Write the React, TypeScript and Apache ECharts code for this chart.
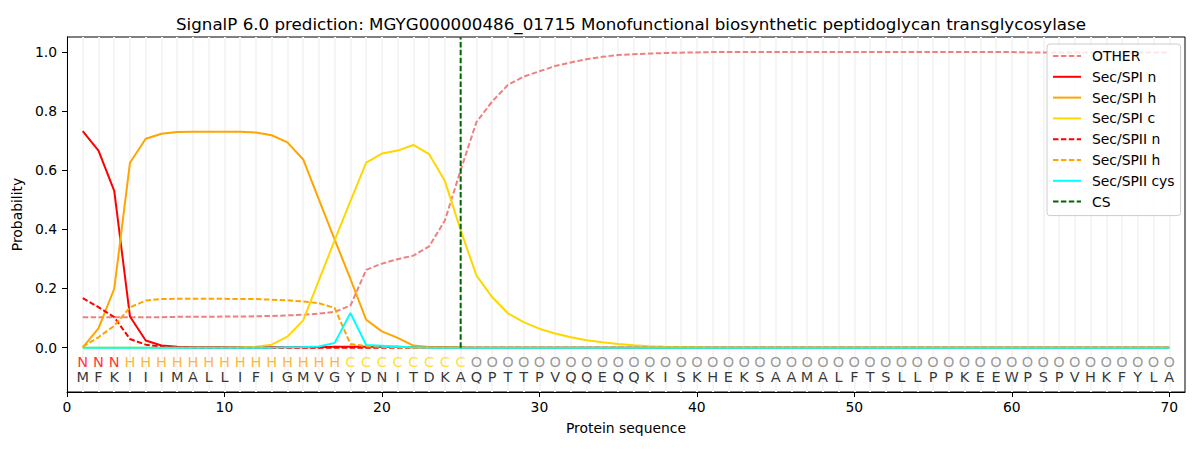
import React, { useEffect, useRef } from "react";
import * as echarts from "echarts";

// 残基序列与每个残基的预测标签
const residues = "MFKIIIMALLIFIGMVGYDNITDKAQPTTPVQQEQQKISKHEKSAAMALFTSLLPPKEEWPSPVHKFYLA".split("");
const regionLabels = "NNNHHHHHHHHHHHHHHCCCCCCCCOOOOOOOOOOOOOOOOOOOOOOOOOOOOOOOOOOOOOOOOOOOOO".split("");

const otherProb = [
  0.103, 0.103, 0.103, 0.103, 0.103, 0.103, 0.104, 0.104, 0.104, 0.105,
  0.105, 0.106, 0.107, 0.109, 0.111, 0.115, 0.121, 0.142, 0.263, 0.284,
  0.299, 0.311, 0.342, 0.43, 0.6, 0.762, 0.832, 0.888, 0.916, 0.934,
  0.952, 0.964, 0.975, 0.983, 0.989, 0.992, 0.994, 0.996, 0.997, 0.998,
  0.999, 0.999, 0.999, 0.999, 0.999, 0.999, 0.999, 0.999, 0.999, 0.999,
  0.999, 0.999, 0.999, 0.999, 0.999, 0.999, 0.999, 0.999, 0.999, 0.999,
  0.998, 0.998, 0.998, 0.998, 0.998, 0.998, 0.998, 0.998, 0.998, 0.998,
];
const spiN = [
  0.732, 0.666, 0.53, 0.105, 0.024, 0.007, 0.003, 0.001, 0.001, 0.001,
  0.001, 0.001, 0.001, 0.001, 0.001, 0.001, 0.003, 0.003, 0.003, 0.003,
  0.003, 0.001, 0.001, 0.001, 0, 0, 0, 0, 0, 0,
  0, 0, 0, 0, 0, 0, 0, 0, 0, 0,
  0, 0, 0, 0, 0, 0, 0, 0, 0, 0,
  0, 0, 0, 0, 0, 0, 0, 0, 0, 0,
  0, 0, 0, 0, 0, 0, 0, 0, 0, 0,
];
const spiH = [
  0.001, 0.065, 0.199, 0.625, 0.706, 0.723, 0.729, 0.73, 0.73, 0.73,
  0.73, 0.727, 0.718, 0.694, 0.636, 0.5, 0.365, 0.232, 0.094, 0.055,
  0.033, 0.007, 0.002, 0.001, 0.001, 0, 0, 0, 0, 0,
  0, 0, 0, 0, 0, 0, 0, 0, 0, 0,
  0, 0, 0, 0, 0, 0, 0, 0, 0, 0,
  0, 0, 0, 0, 0, 0, 0, 0, 0, 0,
  0, 0, 0, 0, 0, 0, 0, 0, 0, 0,
];
const spiC = [
  0, 0, 0, 0, 0, 0, 0, 0, 0, 0,
  0.001, 0.003, 0.01, 0.037, 0.092, 0.228, 0.363, 0.495, 0.625, 0.656,
  0.666, 0.685, 0.654, 0.563, 0.397, 0.244, 0.171, 0.116, 0.086, 0.064,
  0.048, 0.035, 0.025, 0.018, 0.012, 0.008, 0.005, 0.003, 0.002, 0.001,
  0, 0, 0, 0, 0, 0, 0, 0, 0, 0,
  0, 0, 0, 0, 0, 0, 0, 0, 0, 0,
  0, 0, 0, 0, 0, 0, 0, 0, 0, 0,
];
const spiiN = [
  0.167, 0.137, 0.103, 0.029, 0.01, 0.003, 0.001, 0, 0, 0,
  0, 0, 0, 0, 0, 0, 0, 0, 0, 0,
  0, 0, 0, 0, 0, 0, 0, 0, 0, 0,
  0, 0, 0, 0, 0, 0, 0, 0, 0, 0,
  0, 0, 0, 0, 0, 0, 0, 0, 0, 0,
  0, 0, 0, 0, 0, 0, 0, 0, 0, 0,
  0, 0, 0, 0, 0, 0, 0, 0, 0, 0,
];
const spiiH = [
  0.003, 0.035, 0.074, 0.136, 0.159, 0.164, 0.165, 0.165, 0.165, 0.165,
  0.164, 0.164, 0.162, 0.16, 0.156, 0.15, 0.134, 0.012, 0.005, 0.002,
  0.001, 0, 0, 0, 0, 0, 0, 0, 0, 0,
  0, 0, 0, 0, 0, 0, 0, 0, 0, 0,
  0, 0, 0, 0, 0, 0, 0, 0, 0, 0,
  0, 0, 0, 0, 0, 0, 0, 0, 0, 0,
  0, 0, 0, 0, 0, 0, 0, 0, 0, 0,
];
const spiiCys = [
  0, 0, 0, 0, 0, 0, 0, 0, 0, 0,
  0, 0, 0, 0.001, 0.002, 0.004, 0.016, 0.117, 0.009, 0.006,
  0.003, 0.001, 0, 0, 0, 0, 0, 0, 0, 0,
  0, 0, 0, 0, 0, 0, 0, 0, 0, 0,
  0, 0, 0, 0, 0, 0, 0, 0, 0, 0,
  0, 0, 0, 0, 0, 0, 0, 0, 0, 0,
  0, 0, 0, 0, 0, 0, 0, 0, 0, 0,
];
const csPosition = 25;
const xTicks = [0, 10, 20, 30, 40, 50, 60, 70];
const yTicks = [0, 0.2, 0.4, 0.6, 0.8, 1.0];

const FONT = "DejaVu Sans";
const DASH = [5.5, 2.4];
const GRID_LINE = "#f5f5f5";
const labelColors: Record<string, string> = {
  N: "#ff0000",
  H: "#ffa500",
  C: "#ffd700",
  O: "#808080",
};

const toPoints = (arr: number[]) => arr.map((v, i) => [i + 1, v]);

const lineSeries = (name: string, data: number[], color: string, dashed: boolean) => ({
  name,
  type: "line",
  data: toPoints(data),
  symbol: "none",
  lineStyle: { color, width: 2, type: dashed ? DASH : "solid" },
  itemStyle: { color },
});

// 残基文字行：用散点的标签放在数据坐标上
const textRow = (name: string, letters: string[], y: number, colorOf: (r: string) => string) => ({
  name,
  type: "scatter",
  silent: true,
  symbolSize: 2,
  itemStyle: { color: "transparent" },
  data: letters.map((r, i) => ({
    value: [i + 1, y],
    label: { formatter: r, color: colorOf(r) },
  })),
  label: { show: true, position: "inside", fontFamily: FONT, fontSize: 14.5 },
  labelLayout: { hideOverlap: false },
  z: 5,
});

const App: React.FC = () => {
  const chartRef = useRef<HTMLDivElement>(null);

  useEffect(() => {
    const myChart = echarts.init(chartRef.current, null, { renderer: "svg" });
    const option: any = {
      animation: false,
      textStyle: { fontFamily: FONT },
      title: {
        text: "SignalP 6.0 prediction: MGYG000000486_01715 Monofunctional biosynthetic peptidoglycan transglycosylase",
        left: 626,
        top: 10,
        textAlign: "center",
        textStyle: { fontFamily: FONT, fontSize: 16.7, fontWeight: "normal", color: "#000" },
      },
      grid: {
        left: 67,
        right: 15,
        top: 37,
        bottom: 58,
        show: true,
        borderColor: "#000",
        borderWidth: 1,
        backgroundColor: "transparent",
      },
      legend: {
        data: ["OTHER", "Sec/SPI n", "Sec/SPI h", "Sec/SPI c", "Sec/SPII n", "Sec/SPII h", "Sec/SPII cys", "CS"],
        orient: "vertical",
        left: 1047,
        top: 44,
        itemWidth: 28,
        itemHeight: 14,
        itemGap: 6.8,
        padding: [5, 6, 7, 5],
        itemStyle: { opacity: 0 },
        backgroundColor: "rgba(255,255,255,0.8)",
        borderColor: "#cccccc",
        borderWidth: 1,
        borderRadius: 3,
        textStyle: { fontFamily: FONT, fontSize: 13.9, color: "#000", padding: [0, 0, 0, 6] },
      },
      xAxis: {
        type: "value",
        min: 0,
        max: 71,
        interval: 10,
        name: "Protein sequence",
        nameLocation: "middle",
        nameGap: 29,
        nameTextStyle: { fontFamily: FONT, fontSize: 13.9, color: "#000" },
        axisLine: { show: true, onZero: false, lineStyle: { color: "#000", width: 1 } },
        axisTick: { show: true, length: 5, lineStyle: { color: "#000" }, customValues: xTicks },
        axisLabel: { fontFamily: FONT, fontSize: 13.9, color: "#000", margin: 8, customValues: xTicks },
        splitLine: { show: true, lineStyle: { color: GRID_LINE, width: 2 } },
        minorTick: { show: false, splitNumber: 10 },
        minorSplitLine: { show: true, lineStyle: { color: GRID_LINE, width: 2 } },
      },
      yAxis: {
        type: "value",
        min: -0.15,
        max: 1.05,
        name: "Probability",
        nameLocation: "middle",
        nameGap: 31,
        nameTextStyle: { fontFamily: FONT, fontSize: 13.9, color: "#000" },
        axisLine: { show: true, lineStyle: { color: "#000", width: 1 } },
        axisTick: { show: true, length: 5, lineStyle: { color: "#000" }, customValues: yTicks },
        axisLabel: {
          fontFamily: FONT,
          fontSize: 13.9,
          color: "#000",
          margin: 10,
          customValues: yTicks,
          formatter: (v: number) => v.toFixed(1),
        },
        splitLine: { show: false },
      },
      series: [
        lineSeries("OTHER", otherProb, "#f08080", true),
        lineSeries("Sec/SPI n", spiN, "#ff0000", false),
        lineSeries("Sec/SPI h", spiH, "#ffa500", false),
        lineSeries("Sec/SPI c", spiC, "#ffd700", false),
        lineSeries("Sec/SPII n", spiiN, "#ff0000", true),
        lineSeries("Sec/SPII h", spiiH, "#ffa500", true),
        lineSeries("Sec/SPII cys", spiiCys, "#00ffff", false),
        {
          ...lineSeries("CS", [], "#006400", true),
          data: [
            [csPosition, 0],
            [csPosition, 1.05],
          ],
        },
        textRow("regions", regionLabels, -0.047, (r) => labelColors[r]),
        textRow("residues", residues, -0.098, () => "#000"),
      ],
    };
    myChart.setOption(option);
    return () => {
      myChart.dispose();
    };
  }, []);

  return (
    <div
      ref={chartRef}
      style={{ position: "absolute", left: 0, top: 0, width: 1200, height: 450 }}
    />
  );
};

export default App;
